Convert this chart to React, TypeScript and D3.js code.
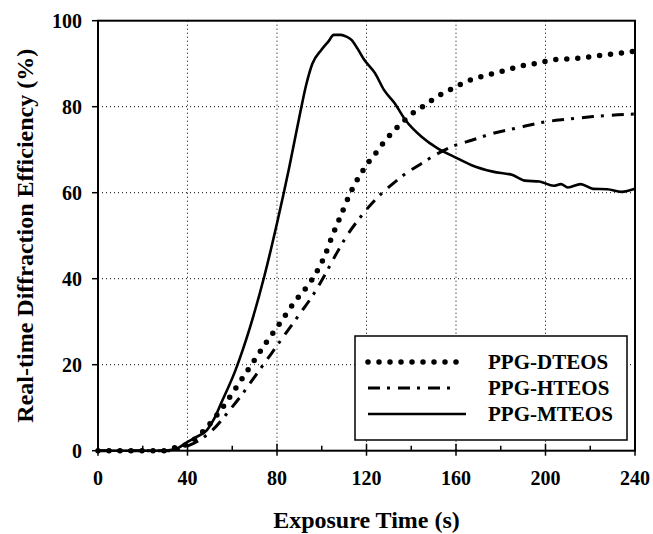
import React from "react";
import * as d3 from "d3";

const dTime = [0, 29, 34.3, 38.8, 43.9, 48.4, 52.4, 55.9, 62.3, 68.7, 75.1, 81.8, 88.3, 92.3, 95.8, 98.6, 101, 104.6, 108.6, 112.6, 115, 117.9, 121.1, 124.6, 128.3, 132.6, 137.1, 141.4, 146.6, 151, 155.8, 160.5, 165.3, 170.1, 174.9, 179.7, 184.5, 189.3, 194.1, 198.9, 203.7, 213.3, 222.8, 232.4, 240];
const dValue = [0, 0, 0.7, 1.3, 3.0, 5.3, 7.8, 10.2, 15.1, 20.1, 25.1, 30.0, 34.9, 37.4, 39.9, 42.4, 44.9, 49.8, 54.8, 59.7, 62.2, 64.7, 67.2, 69.5, 72.1, 74.6, 76.9, 78.8, 80.5, 82.2, 83.5, 84.8, 86.0, 86.8, 87.5, 88.1, 88.8, 89.5, 89.9, 90.4, 90.9, 91.2, 91.8, 92.4, 92.9];

const hTime = [0, 32, 39, 45.5, 52.7, 58.3, 64.7, 71.1, 77.5, 83.9, 90.3, 96.6, 101.4, 106.2, 111, 117.4, 123.8, 130.2, 136.6, 144.6, 151.8, 159, 167, 176.5, 187.7, 198.9, 210, 221.2, 232.4, 240];
const hValue = [0, 0, 0.9, 2.5, 5.6, 9.1, 13.3, 18, 22.6, 27.3, 31.9, 36.6, 40.9, 45.5, 49.8, 54.4, 58.3, 61.4, 64.1, 66.8, 69.1, 70.9, 72.2, 73.8, 75.1, 76.4, 77.1, 77.7, 78.1, 78.3];

const mTime = [0, 30, 33, 36, 39, 44, 48.7, 52, 55, 61.5, 68, 74.3, 80, 85.5, 90.3, 93, 95.8, 99.8, 103, 105.4, 108.6, 111, 113.4, 116, 119, 123.8, 127.8, 132.6, 137.4, 144.6, 151.8, 159, 167, 176.5, 185.3, 190.9, 197.3, 203.7, 206.9, 210, 215.7, 221.2, 227.6, 234, 240];
const mValue = [0, 0, 0.2, 0.7, 1.7, 3.2, 4.8, 7.5, 11, 18.8, 28.8, 40.5, 52.9, 66, 78.4, 85, 90, 93.2, 95.2, 96.7, 96.7, 96.3, 95.5, 93.5, 90.9, 87.8, 83.9, 80.8, 76.9, 73, 70.3, 68.4, 66.4, 64.9, 64.1, 62.8, 62.6, 61.6, 62.0, 61.2, 62.0, 60.9, 60.8, 60.2, 60.9];

const seriesNames = ["PPG-DTEOS", "PPG-HTEOS", "PPG-MTEOS"];
const xTicks = [0, 40, 80, 120, 160, 200, 240];
const xMinorTicks = [20, 60, 100, 140, 180, 220];
const yTicks = [0, 20, 40, 60, 80, 100];
const xTitle = "Exposure Time (s)";
const yTitle = "Real-time Diffraction Efficiency (%)";

const W = 653, H = 534;
const L = 98, R = 635, T = 20.7, B = 450.7;
const FONT = "'Liberation Serif', 'Times New Roman', Times, 'DejaVu Serif', serif";

export default function App() {
  const x = d3.scaleLinear().domain([0, 240]).range([L, R]);
  const y = d3.scaleLinear().domain([0, 100]).range([B, T]);
  const line = d3
    .line<[number, number]>()
    .x((d) => x(d[0]))
    .y((d) => y(d[1]))
    .curve(d3.curveMonotoneX);
  const mk = (t: number[], v: number[]) => t.map((tt, i) => [tt, v[i]] as [number, number]);
  const dPath = line(mk(dTime, dValue)) || "";
  const hPath = line(mk(hTime, hValue)) || "";
  const mPath = line(mk(mTime, mValue)) || "";

  const styles = [
    { dash: "0 11", width: 5.5, cap: "round" as const },
    { dash: "12 7 3 8", width: 3, cap: "butt" as const },
    { dash: undefined, width: 2.6, cap: "butt" as const },
  ];
  const legX0 = 368, legX1 = [458, 458, 466], legY = [362, 388, 414];
  const textStyle = { fontFamily: FONT, fontWeight: 700 as const };

  return (
    <svg width={W} height={H} style={{ position: "absolute", left: 0, top: 0, background: "#fff" }}>
      <rect x={0} y={0} width={W} height={H} fill="#fff" />
      {xTicks.filter((t) => t > 0 && t < 240).map((t) => (
        <line key={"gx" + t} x1={x(t)} x2={x(t)} y1={T} y2={B} stroke="#000" strokeWidth={1} strokeDasharray="1 3" />
      ))}
      {yTicks.filter((t) => t > 0 && t < 100).map((t) => (
        <line key={"gy" + t} x1={L} x2={R} y1={y(t)} y2={y(t)} stroke="#000" strokeWidth={1} strokeDasharray="1 3" />
      ))}
      <path d={hPath} fill="none" stroke="#000" strokeWidth={styles[1].width} strokeDasharray={styles[1].dash} />
      <path d={mPath} fill="none" stroke="#000" strokeWidth={styles[2].width} strokeLinejoin="round" />
      <path d={dPath} fill="none" stroke="#000" strokeWidth={styles[0].width} strokeDasharray={styles[0].dash} strokeLinecap="round" />
      <rect x={L} y={T} width={R - L} height={B - T} fill="none" stroke="#000" strokeWidth={2} />
      {xTicks.map((t) => (
        <g key={"xt" + t}>
          <line x1={x(t)} x2={x(t)} y1={B - 7} y2={B + 5} stroke="#000" strokeWidth={1.5} />
          <text x={x(t)} y={485} textAnchor="middle" fontSize={20} style={textStyle}>{t}</text>
        </g>
      ))}
      {xMinorTicks.map((t) => (
        <line key={"xm" + t} x1={x(t)} x2={x(t)} y1={B - 5} y2={B} stroke="#000" strokeWidth={1.5} />
      ))}
      {yTicks.map((t) => (
        <g key={"yt" + t}>
          <line x1={L - 6} x2={L} y1={y(t)} y2={y(t)} stroke="#000" strokeWidth={1.5} />
          <text x={82} y={y(t)} dy="0.35em" textAnchor="end" fontSize={20} style={textStyle}>{t}</text>
        </g>
      ))}
      <text x={(L + R) / 2} y={528} textAnchor="middle" fontSize={24} style={textStyle}>{xTitle}</text>
      <text transform={`translate(33,${(T + B) / 2}) rotate(-90)`} textAnchor="middle" fontSize={24} style={textStyle}>{yTitle}</text>
      <rect x={355} y={336} width={272} height={104} fill="#fff" stroke="#000" strokeWidth={1.5} />
      {seriesNames.map((n, i) => (
        <g key={n}>
          <line x1={legX0} x2={legX1[i]} y1={legY[i]} y2={legY[i]} stroke="#000" strokeWidth={styles[i].width} strokeDasharray={styles[i].dash} strokeLinecap={styles[i].cap} />
          <text x={488} y={legY[i]} dy="0.35em" fontSize={21} style={textStyle}>{n}</text>
        </g>
      ))}
    </svg>
  );
}
